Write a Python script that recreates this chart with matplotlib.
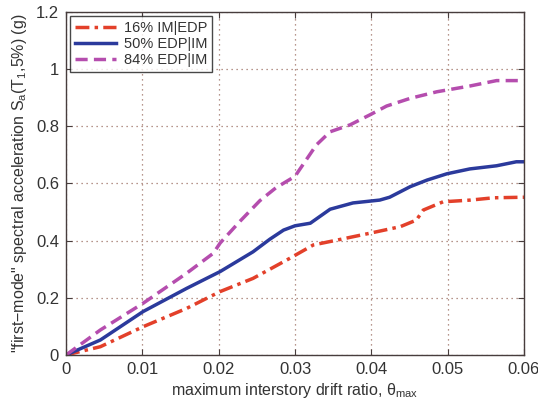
import matplotlib
matplotlib.use("Agg")
from matplotlib import pyplot as plt

# 16% IM|EDP
x16 = [0, 0.0045, 0.0101, 0.0158, 0.0202, 0.0245, 0.0267, 0.0293, 0.0324, 0.0355,
       0.0398, 0.0438, 0.0459, 0.0468, 0.0494, 0.053, 0.056, 0.06]
y16 = [0, 0.029, 0.099, 0.163, 0.222, 0.268, 0.300, 0.338, 0.385, 0.402,
       0.426, 0.449, 0.472, 0.507, 0.536, 0.542, 0.550, 0.552]

# 50% EDP|IM
x50 = [0, 0.0045, 0.0101, 0.0158, 0.0202, 0.0245, 0.0267, 0.0285, 0.030, 0.032, 0.0346,
       0.0376, 0.0411, 0.0424, 0.0451, 0.0473, 0.0499, 0.0529, 0.0564, 0.059, 0.06]
y50 = [0, 0.0525, 0.152, 0.233, 0.292, 0.361, 0.405, 0.437, 0.452, 0.461, 0.510,
       0.532, 0.542, 0.552, 0.589, 0.612, 0.634, 0.651, 0.662, 0.676, 0.676]

# 84% EDP|IM
x84 = [0, 0.0045, 0.0101, 0.0158, 0.0193, 0.0202, 0.0228, 0.0254, 0.0275, 0.0300,
       0.0328, 0.0346, 0.0372, 0.0398, 0.042, 0.0451, 0.0486, 0.0529, 0.0564, 0.06]
y84 = [0, 0.0875, 0.181, 0.286, 0.356, 0.392, 0.468, 0.540, 0.585, 0.625,
       0.735, 0.781, 0.805, 0.84, 0.871, 0.898, 0.921, 0.941, 0.960, 0.960]

xticks = [0, 0.01, 0.02, 0.03, 0.04, 0.05, 0.06]
xticklabels = ["0", "0.01", "0.02", "0.03", "0.04", "0.05", "0.06"]
yticks = [0, 0.2, 0.4, 0.6, 0.8, 1.0, 1.2]
yticklabels = ["0", "0.2", "0.4", "0.6", "0.8", "1", "1.2"]

plt.rcParams['font.family'] = ['Liberation Sans', 'DejaVu Sans']
plt.rcParams['mathtext.fontset'] = 'custom'
plt.rcParams['mathtext.rm'] = 'Liberation Sans'
plt.rcParams['mathtext.it'] = 'Liberation Sans'

edge = (0.28, 0.24, 0.24)
gridc = (0.62, 0.45, 0.40)
txt = (0.2, 0.2, 0.2)

fig = plt.figure(figsize=(5.38, 4.03), dpi=100)
ax = fig.add_axes([66 / 538, 48 / 403, 458 / 538, 343 / 403])

ax.plot(x16, y16, color='#e3402a', linewidth=2.5, linestyle=(0, (4, 1.5, 1, 1.5)), label='16% IM|EDP')
ax.plot(x50, y50, color='#2b3a9c', linewidth=2.5, linestyle='-', label='50% EDP|IM')
ax.plot(x84, y84, color='#b54dae', linewidth=2.5, linestyle=(0, (3.5, 1.8)), label='84% EDP|IM')

ax.set_xlim(0, 0.06)
ax.set_ylim(0, 1.2)
ax.set_xticks(xticks)
ax.set_xticklabels(xticklabels)
ax.set_yticks(yticks)
ax.set_yticklabels(yticklabels)
ax.tick_params(direction='in', top=True, right=True, length=4, width=0.8,
               colors=edge, labelcolor=txt, labelsize=12, pad=5)
for s in ax.spines.values():
    s.set_color(edge)
    s.set_linewidth(1.0)

ax.grid(True, linestyle=(0, (1, 3)), color=gridc, linewidth=0.9)

ax.set_xlabel(r'maximum interstory drift ratio, θ$_\mathregular{max}$', fontsize=11.5, color=txt, labelpad=3)
ax.set_ylabel(r'"first$-$mode" spectral acceleration S$_\mathregular{a}$(T$_\mathregular{1}$,5%) (g)',
              fontsize=11.5, color=txt, labelpad=5)

leg = ax.legend(loc='upper left', fontsize=10.5, frameon=True, fancybox=False,
                borderaxespad=0.3, handlelength=2.8, handletextpad=0.6,
                labelspacing=0.15, borderpad=0.3)
leg.get_frame().set_edgecolor((0.1, 0.1, 0.1))
leg.get_frame().set_linewidth(1.0)
for t in leg.get_texts():
    t.set_color(txt)

fig.savefig('out.png', dpi=100)
